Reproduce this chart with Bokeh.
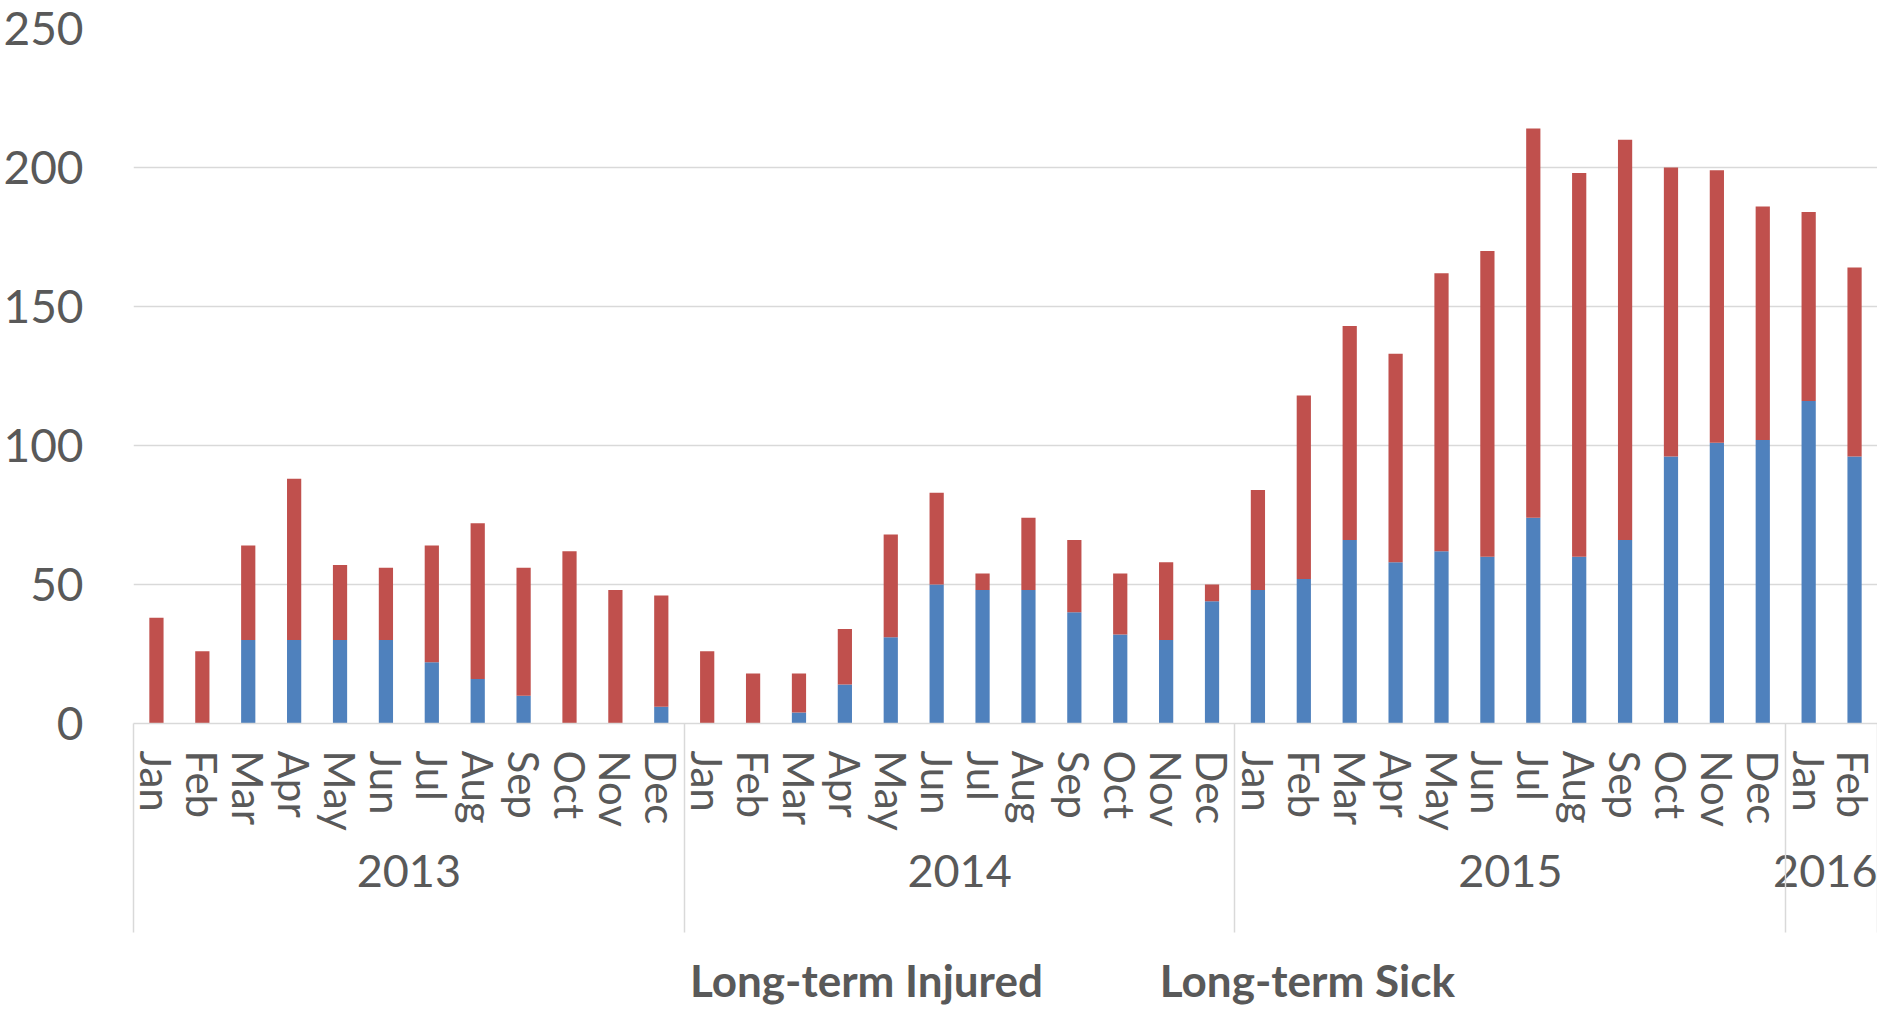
from bokeh.plotting import figure
from bokeh.layouts import column
from bokeh.models import (FactorRange, Range1d, FixedTicker, LinearAxis, CategoricalAxis,
                          Legend, LegendItem, ColumnDataSource)
from bokeh.embed import file_html
from bokeh.resources import INLINE

years = ["2013"] * 12 + ["2014"] * 12 + ["2015"] * 12 + ["2016"] * 2
month_names = ["Jan", "Feb", "Mar", "Apr", "May", "Jun", "Jul", "Aug", "Sep", "Oct", "Nov", "Dec"]
months = month_names * 3 + ["Jan", "Feb"]

injured = [0, 0, 30, 30, 30, 30, 22, 16, 10, 0, 0, 6,
           0, 0, 4, 14, 31, 50, 48, 48, 40, 32, 30, 44,
           48, 52, 66, 58, 62, 60, 74, 60, 66, 96, 101, 102,
           116, 96]
sick = [38, 26, 34, 58, 27, 26, 42, 56, 46, 62, 48, 40,
        26, 18, 14, 20, 37, 33, 6, 26, 26, 22, 28, 6,
        36, 66, 77, 75, 100, 110, 140, 138, 144, 104, 98, 84,
        68, 68]
y_ticks = [0, 50, 100, 150, 200, 250]
series = ["Long-term Injured", "Long-term Sick"]
colors = ["#4F81BD", "#C0504D"]

factors = list(zip(years, months))
source = ColumnDataSource(data=dict(x=factors, injured=injured, sick=sick))

FONT = "Lato"
TXT = "#595959"
GRID = "#D9D9D9"

x_range = FactorRange(*factors, factor_padding=0, group_padding=0, subgroup_padding=0, range_padding=0)
p = figure(width=1877, height=950, x_range=x_range, y_range=Range1d(0, 250),
           x_axis_type=None, output_backend="svg", toolbar_location=None,
           min_border_left=132, min_border_right=0, min_border_top=28, min_border_bottom=227)
p.outline_line_color = None
p.xgrid.grid_line_color = None
p.ygrid.grid_line_color = GRID
p.ygrid.grid_line_width = 1.5
p.ygrid.ticker = FixedTicker(ticks=y_ticks)

yax = p.yaxis[0]
yax.ticker = FixedTicker(ticks=y_ticks)
yax.axis_line_color = None
yax.major_tick_line_color = None
yax.minor_tick_line_color = None
yax.major_label_standoff = 44
yax.major_label_text_font = FONT
yax.major_label_text_font_size = "46px"
yax.major_label_text_color = TXT

p.vbar_stack(["injured", "sick"], x="x", width=0.31, color=colors, source=source,
             line_color=None)

cax = CategoricalAxis()
cax.axis_line_color = GRID
cax.axis_line_width = 1.5
cax.major_tick_line_color = None
cax.minor_tick_line_color = None
cax.separator_line_color = None
cax.major_label_orientation = "vertical"
cax.major_label_standoff = 21
cax.major_label_text_font = FONT
cax.major_label_text_font_size = "42px"
cax.major_label_text_color = TXT
cax.group_text_font = FONT
cax.group_text_font_size = "45px"
cax.group_text_font_style = "normal"
cax.group_text_line_height = 1.8
cax.group_text_color = TXT
p.add_layout(cax, "below")

# separator lines between year groups: minor ticks of an unlabeled axis just below
year_bounds = [0, 12, 24, 36, len(factors)]
sep_axis = LinearAxis(ticker=FixedTicker(ticks=[], minor_ticks=year_bounds),
                      axis_line_color=None, major_tick_line_color=None,
                      major_tick_out=0, major_tick_in=0,
                      minor_tick_in=166, minor_tick_out=43,
                      minor_tick_line_color=GRID, minor_tick_line_width=1.5,
                      major_label_text_font_size="0px")
p.add_layout(sep_axis, "below")

# legend strip below the chart
pl = figure(width=1877, height=59, x_range=Range1d(0, 1), y_range=Range1d(0, 1),
            x_axis_type=None, y_axis_type=None, output_backend="svg", toolbar_location=None,
            min_border_left=0, min_border_right=0, min_border_top=0, min_border_bottom=0)
pl.outline_line_color = None
pl.xgrid.grid_line_color = None
pl.ygrid.grid_line_color = None
leg_src = ColumnDataSource(data=dict(x=[], top=[]))
r_inj = pl.vbar(x="x", top="top", width=0.1, color=colors[0], line_color=None, source=leg_src)
r_sick = pl.vbar(x="x", top="top", width=0.1, color=colors[1], line_color=None, source=leg_src)

legend = Legend(items=[LegendItem(label=series[0], renderers=[r_inj]),
                       LegendItem(label=series[1], renderers=[r_sick])],
                orientation="horizontal", location=(510, 3),
                glyph_width=30, glyph_height=30, label_standoff=17, spacing=70,
                padding=0, margin=0, border_line_color=None, background_fill_alpha=0,
                label_text_font=FONT, label_text_font_style="bold",
                label_text_font_size="44px", label_text_color=TXT)
pl.add_layout(legend, "center")

layout = column(p, pl, spacing=0)
open("out.html", "w").write(file_html(layout, INLINE))
